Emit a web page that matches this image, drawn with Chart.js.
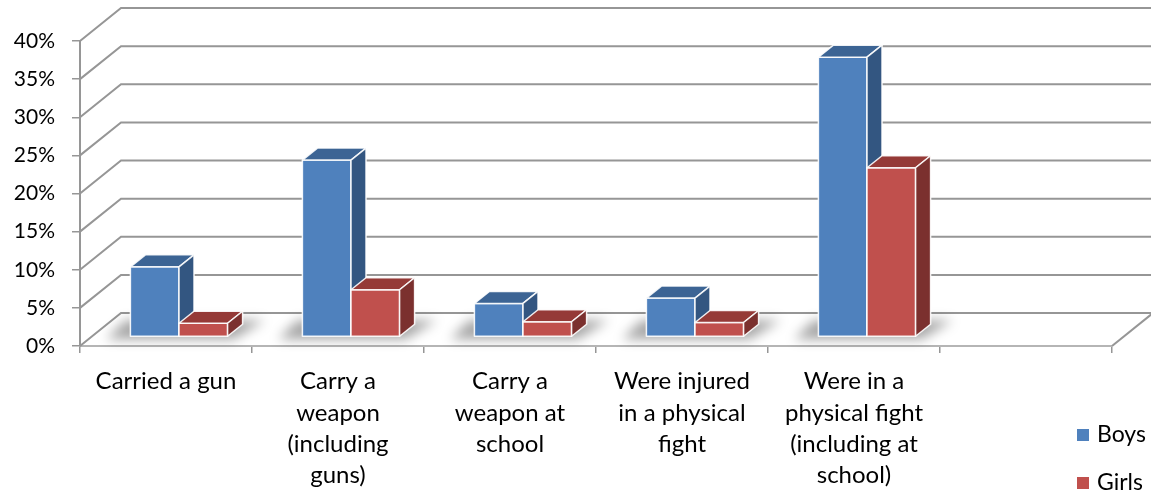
<!DOCTYPE html>
<html>
<head>
<meta charset="utf-8">
<script src="https://cdn.jsdelivr.net/npm/chart.js@4"></script>
<style>
  html, body { margin: 0; background: #fff; }
  #wrap { width: 1151px; height: 493px; }
</style>
</head>
<body>
<div id="wrap"><canvas id="myChart"></canvas></div>
<script>
// data (percent)
const categories = [
  'Carried a gun',
  ['Carry a', 'weapon', '(including', 'guns)'],
  ['Carry a', 'weapon at', 'school'],
  ['Were injured', 'in a physical', 'fight'],
  ['Were in a', 'physical fight', '(including at', 'school)'],
  ''
];
const boys = [9.2, 23.2, 4.4, 5.1, 36.7, null];
const girls = [1.8, 6.2, 2.0, 1.9, 22.2, null];
const seriesNames = ['Boys', 'Girls'];
const yMax = 40;
const yStep = 5;

// colours: front, top, side
const faces = [
  { front: '#4f81bd', top: '#3c6494', side: '#335681' },
  { front: '#c0504d', top: '#953a37', side: '#7b302e' }
];

const WALL = { dx: 41, dy: -33 };   // back wall offset
const PLANE = { dx: 13, dy: -9 };   // plane the bars stand on
const BOX = { dx: 15, dy: -12 };    // bar depth

function poly(ctx, pts, fill) {
  ctx.beginPath();
  ctx.moveTo(pts[0][0], pts[0][1]);
  for (let i = 1; i < pts.length; i++) ctx.lineTo(pts[i][0], pts[i][1]);
  ctx.closePath();
  ctx.fillStyle = fill;
  ctx.fill();
  ctx.stroke();
}

const walls3d = {
  id: 'walls3d',
  beforeDatasetsDraw(chart) {
    const ctx = chart.ctx;
    const { left, right, bottom } = chart.chartArea;
    const ys = chart.scales.y;
    ctx.save();
    // back wall + side wall grid
    ctx.strokeStyle = '#969696';
    ctx.lineWidth = 2;
    ys.ticks.forEach(t => {
      const y = ys.getPixelForValue(t.value);
      ctx.beginPath();
      ctx.moveTo(left, y);
      ctx.lineTo(left + WALL.dx, y + WALL.dy);
      ctx.lineTo(chart.width, y + WALL.dy);
      ctx.stroke();
    });
    ctx.beginPath();
    ctx.moveTo(right, bottom);
    ctx.lineTo(right + WALL.dx, bottom + WALL.dy);
    ctx.stroke();

    // floor shadows
    const m0 = chart.getDatasetMeta(0), m1 = chart.getDatasetMeta(1);
    ctx.filter = 'blur(6px)';
    ctx.fillStyle = 'rgba(0,0,0,0.35)';
    m0.data.forEach((b, i) => {
      const r = m1.data[i];
      if (boys[i] == null) return;
      const x0 = b.x - b.width / 2 + PLANE.dx;
      const x1 = r.x + r.width / 2 + PLANE.dx;
      const yb = b.base + PLANE.dy;
      ctx.beginPath();
      ctx.moveTo(x0 - 24, yb + 3);
      ctx.lineTo(x1 + 6, yb + 3);
      ctx.lineTo(x1 + BOX.dx + 22, yb + BOX.dy - 4);
      ctx.lineTo(x0 + BOX.dx - 20, yb + BOX.dy - 4);
      ctx.closePath();
      ctx.fill();
    });
    ctx.filter = 'none';

    // 3d bars
    ctx.strokeStyle = 'rgba(255,255,255,0.9)';
    ctx.lineWidth = 1.5;
    ctx.lineJoin = 'round';
    m0.data.forEach((_, i) => {
      [0, 1].forEach(d => {
        const v = chart.data.datasets[d].data[i];
        if (v == null) return;
        const el = chart.getDatasetMeta(d).data[i];
        const p = el.getProps(['x', 'y', 'base', 'width'], true);
        const x0 = p.x - p.width / 2 + PLANE.dx;
        const x1 = p.x + p.width / 2 + PLANE.dx;
        const yt = p.y + PLANE.dy;
        const yb = p.base + PLANE.dy;
        const f = faces[d];
        poly(ctx, [[x0, yb], [x0, yt], [x1, yt], [x1, yb]], f.front);
        poly(ctx, [[x0, yt], [x0 + BOX.dx, yt + BOX.dy], [x1 + BOX.dx, yt + BOX.dy], [x1, yt]], f.top);
        poly(ctx, [[x1, yt], [x1 + BOX.dx, yt + BOX.dy], [x1 + BOX.dx, yb + BOX.dy], [x1, yb]], f.side);
      });
    });
    ctx.restore();
    return false;
  },
  afterDraw(chart) {
    const ctx = chart.ctx;
    ctx.save();
    ctx.font = '23px Lato';
    ctx.textBaseline = 'middle';
    seriesNames.forEach((name, i) => {
      const cy = 435 + i * 48;
      ctx.fillStyle = faces[i].front;
      ctx.fillRect(1077, cy - 6, 12, 12);
      ctx.fillStyle = '#000';
      ctx.fillText(name, 1097, cy);
    });
    ctx.restore();
  }
};

Chart.defaults.font.family = 'Lato';
Chart.defaults.font.size = 21;
Chart.defaults.color = '#000';

new Chart(document.getElementById('myChart'), {
  type: 'bar',
  data: {
    labels: categories,
    datasets: [
      { label: seriesNames[0], data: boys, backgroundColor: faces[0].front },
      { label: seriesNames[1], data: girls, backgroundColor: faces[1].front }
    ]
  },
  options: {
    responsive: true,
    maintainAspectRatio: false,
    animation: false,
    events: [],
    datasets: { bar: { categoryPercentage: 0.565, barPercentage: 1 } },
    layout: { padding: { top: 41, right: 39, left: 0, bottom: 0 } },
    plugins: { legend: { display: false }, tooltip: { enabled: false } },
    scales: {
      x: {
        grid: { drawOnChartArea: false, tickLength: 7, color: '#969696', lineWidth: 1.5 },
        border: { color: '#b5b5b5', width: 2 },
        ticks: { maxRotation: 0, autoSkip: false, padding: 13, font: { size: 24, lineHeight: 1.3 } },
        afterFit(s) { s.height = 147; }
      },
      y: {
        min: 0,
        max: yMax,
        grid: { drawOnChartArea: false, tickLength: 8, color: '#969696', lineWidth: 1.5 },
        border: { color: '#969696', width: 2 },
        ticks: { stepSize: yStep, padding: 17, callback: v => v + '%' },
        afterFit(s) { s.width = 80; }
      }
    }
  },
  plugins: [walls3d]
});
</script>
</body>
</html>
